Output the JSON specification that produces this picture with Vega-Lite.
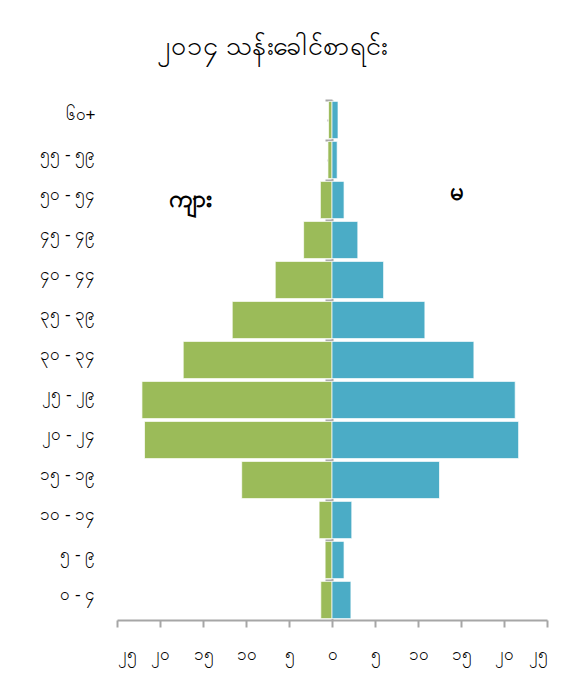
{
  "$schema": "https://vega.github.io/schema/vega-lite/v6.json",
  "width": 430,
  "height": 520,
  "autosize": "none",
  "padding": {"left": 117, "top": 100, "right": 35, "bottom": 67},
  "background": "white",
  "title": {"text": "၂၀၁၄ သန်းခေါင်စာရင်း", "fontSize": 27, "fontWeight": "normal", "color": "#000000", "offset": 38, "anchor": "middle", "dx": -60},
  "config": {"view": {"stroke": null}},
  "data": {"values": [
    {"age": "၆၀+", "sex": "ကျား", "value": -0.4},
    {"age": "၆၀+", "sex": "မ", "value": 0.7},
    {"age": "၅၅ - ၅၉", "sex": "ကျား", "value": -0.47},
    {"age": "၅၅ - ၅၉", "sex": "မ", "value": 0.6},
    {"age": "၅၀ - ၅၄", "sex": "ကျား", "value": -1.35},
    {"age": "၅၀ - ၅၄", "sex": "မ", "value": 1.4},
    {"age": "၄၅ - ၄၉", "sex": "ကျား", "value": -3.3},
    {"age": "၄၅ - ၄၉", "sex": "မ", "value": 3.0},
    {"age": "၄၀ - ၄၄", "sex": "ကျား", "value": -6.6},
    {"age": "၄၀ - ၄၄", "sex": "မ", "value": 6.0},
    {"age": "၃၅ - ၃၉", "sex": "ကျား", "value": -11.6},
    {"age": "၃၅ - ၃၉", "sex": "မ", "value": 10.8},
    {"age": "၃၀ - ၃၄", "sex": "ကျား", "value": -17.3},
    {"age": "၃၀ - ၃၄", "sex": "မ", "value": 16.5},
    {"age": "၂၅ - ၂၉", "sex": "ကျား", "value": -22.1},
    {"age": "၂၅ - ၂၉", "sex": "မ", "value": 21.3},
    {"age": "၂၀ - ၂၄", "sex": "ကျား", "value": -21.8},
    {"age": "၂၀ - ၂၄", "sex": "မ", "value": 21.7},
    {"age": "၁၅ - ၁၉", "sex": "ကျား", "value": -10.5},
    {"age": "၁၅ - ၁၉", "sex": "မ", "value": 12.5},
    {"age": "၁၀ - ၁၄", "sex": "ကျား", "value": -1.5},
    {"age": "၁၀ - ၁၄", "sex": "မ", "value": 2.3},
    {"age": "၅ - ၉", "sex": "ကျား", "value": -0.8},
    {"age": "၅ - ၉", "sex": "မ", "value": 1.4},
    {"age": "၀ - ၄", "sex": "ကျား", "value": -1.3},
    {"age": "၀ - ၄", "sex": "မ", "value": 2.2}
  ]},
  "layer": [
    {
      "mark": {"type": "bar", "height": {"band": 0.93}, "stroke": "#ffffff", "strokeWidth": 1, "strokeOpacity": 0.7},
      "encoding": {
        "y": {"field": "age", "type": "nominal",
          "scale": {"domain": ["၆၀+", "၅၅ - ၅၉", "၅၀ - ၅၄", "၄၅ - ၄၉", "၄၀ - ၄၄", "၃၅ - ၃၉", "၃၀ - ၃၄", "၂၅ - ၂၉", "၂၀ - ၂၄", "၁၅ - ၁၉", "၁၀ - ၁၄", "၅ - ၉", "၀ - ၄"], "paddingInner": 0, "paddingOuter": 0},
          "axis": {"orient": "left", "title": null, "domain": false, "ticks": false, "labelPadding": 22, "labelFontSize": 17, "labelColor": "#000000", "labelOffset": -5}},
        "x": {"field": "value", "type": "quantitative", "stack": null,
          "scale": {"domain": [-25, 25], "nice": false},
          "axis": {"title": null, "grid": false, "values": [-25, -20, -15, -10, -5, 0, 5, 10, 15, 20, 25],
            "labelExpr": "{'0':'၀','5':'၅','10':'၁၀','15':'၁၅','20':'၂၀','25':'၂၅'}[toString(abs(datum.value))]",
            "tickSize": 7, "tickColor": "#a6a6a6", "tickWidth": 2, "domainColor": "#a6a6a6", "domainWidth": 2,
            "labelFontSize": 17, "labelColor": "#000000", "labelPadding": 19}},
        "color": {"field": "sex", "type": "nominal", "scale": {"domain": ["ကျား", "မ"], "range": ["#9BBB59", "#4BACC6"]}, "legend": null}
      }
    },
    {
      "mark": {"type": "point", "opacity": 0},
      "encoding": {
        "y": {"field": "age", "type": "nominal",
          "axis": {"orient": "left", "offset": -215, "title": null, "labels": false, "domain": true, "domainColor": "#a6a6a6", "domainWidth": 2, "ticks": true, "bandPosition": 0, "tickSize": 7, "tickColor": "#a6a6a6", "tickWidth": 2}}
      }
    },
    {
      "mark": {"type": "point", "opacity": 0},
      "encoding": {
        "y": {"field": "age", "type": "nominal",
          "axis": {"orient": "left", "offset": -215, "title": null, "labels": false, "domain": false, "ticks": true, "bandPosition": 0.5, "tickSize": 5, "tickColor": "#a6a6a6", "tickWidth": 2}}
      }
    },
    {
      "data": {"values": [
        {"age": "၅၀ - ၅၄", "value": -16.5, "label": "ကျား", "shift": 20},
        {"age": "၅၀ - ၅၄", "value": 14.5, "label": "မ", "shift": 13}
      ]},
      "mark": {"type": "text", "fontSize": 24, "fontWeight": "bold", "color": "#000000"},
      "encoding": {
        "y": {"field": "age", "type": "nominal", "axis": null},
        "x": {"field": "value", "type": "quantitative"},
        "yOffset": {"field": "shift", "type": "quantitative", "scale": null},
        "text": {"field": "label"}
      }
    }
  ],
  "resolve": {"axis": {"y": "independent"}}
}
